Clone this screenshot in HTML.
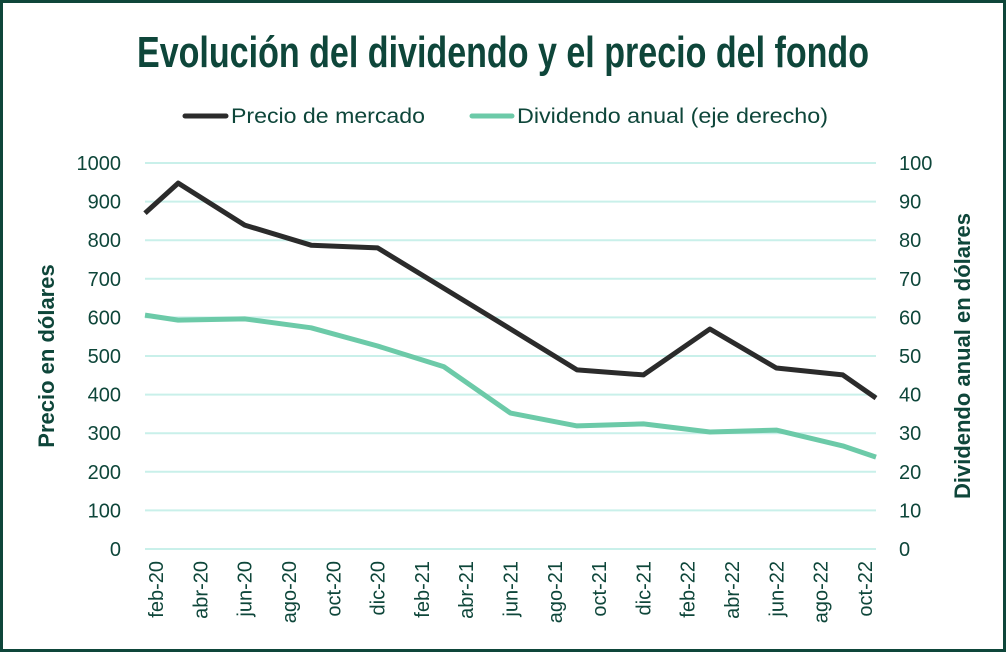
<!DOCTYPE html>
<html><head><meta charset="utf-8"><style>
html,body{margin:0;padding:0;background:#fff}
svg{display:block;font-family:"Liberation Sans",sans-serif}
</style></head><body>
<svg id="chart" width="1006" height="652" viewBox="0 0 1006 652">
<rect x="1.5" y="1.5" width="1003" height="649" fill="#fff" stroke="#0e463a" stroke-width="3"/>
<text x="503" y="67" text-anchor="middle" font-family="'Liberation Sans Narrow','Liberation Sans',sans-serif" font-weight="bold" font-size="44" fill="#0e463a" textLength="732" lengthAdjust="spacingAndGlyphs">Evolución del dividendo y el precio del fondo</text>
<g>
<g>
<line x1="185" y1="116" x2="226" y2="116" stroke="#2b2b2b" stroke-width="5" stroke-linecap="round"/>
<text x="231" y="123" font-size="21" fill="#0e463a" textLength="194" lengthAdjust="spacingAndGlyphs">Precio de mercado</text>
</g>
<g>
<line x1="472" y1="116" x2="512" y2="116" stroke="#6ccaa8" stroke-width="5" stroke-linecap="round"/>
<text x="517" y="123" font-size="21" fill="#0e463a" textLength="311" lengthAdjust="spacingAndGlyphs">Dividendo anual (eje derecho)</text>
</g>
</g>
<text transform="translate(54,356) rotate(-90)" text-anchor="middle" font-family="'Liberation Sans Narrow','Liberation Sans',sans-serif" font-weight="bold" font-size="22" fill="#0e463a">Precio en dólares</text>
<text transform="translate(970,356) rotate(-90)" text-anchor="middle" font-family="'Liberation Sans Narrow','Liberation Sans',sans-serif" font-weight="bold" font-size="22" fill="#0e463a">Dividendo  anual en dólares</text>
<g id="grid"></g><g id="axes"></g><g id="series"></g>
</svg>
<script>
const xLabels=["feb-20","abr-20","jun-20","ago-20","oct-20","dic-20","feb-21","abr-21","jun-21","ago-21","oct-21","dic-21","feb-22","abr-22","jun-22","ago-22","oct-22"];
const leftTicks=[0,100,200,300,400,500,600,700,800,900,1000];
const rightTicks=[0,10,20,30,40,50,60,70,80,90,100];
// month index from feb-20 (=0)
const pointMonths=[-0.5,1,4,7,10,13,16,19,22,25,28,31,32.5];
const priceValues=[870,948,839,787,780,675,570,464,451,570,469,451,391];
const dividendValues=[60.6,59.3,59.6,57.3,52.6,47.2,35.2,31.9,32.4,30.3,30.8,26.7,23.8];
const NS="http://www.w3.org/2000/svg";
const X0=145,X1=876,Y0=549,Y1=163,NCAT=33;
const step=(X1-X0)/NCAT;
const xm=m=>X0+(m+0.5)*step;
const yL=v=>Y0-(v/1000)*(Y0-Y1);
const yR=v=>Y0-(v/100)*(Y0-Y1);
function mk(tag,attrs,parent){const e=document.createElementNS(NS,tag);for(const k in attrs)e.setAttribute(k,attrs[k]);parent.appendChild(e);return e;}
const grid=document.getElementById('grid'),axes=document.getElementById('axes'),series=document.getElementById('series');
leftTicks.forEach((t,i)=>{
 const l=mk('line',{x1:X0,x2:X1,y1:yL(t),y2:yL(t),stroke:'#c9f0ea','stroke-width':2},grid);
 
 
 const a=mk('text',{x:121,y:yL(t)+7,'text-anchor':'end','font-size':20,fill:'#0e463a'},axes);
 a.textContent=t;
 
 
 const b=mk('text',{x:899,y:yR(rightTicks[i])+7,'font-size':20,fill:'#0e463a'},axes);
 b.textContent=rightTicks[i];
 
 
});
xLabels.forEach((lab,i)=>{
 const x=xm(i*2);
 const t=mk('text',{transform:`translate(${x+7},561) rotate(-90)`,'text-anchor':'end','font-size':20,fill:'#0e463a'},axes);
 t.textContent=lab;
 
 
});
function line(vals,yf,color,name){
 const d=vals.map((v,i)=>(i?'L':'M')+xm(pointMonths[i]).toFixed(1)+','+yf(v).toFixed(1)).join(' ');
 const p=mk('path',{d:d,fill:'none',stroke:color,'stroke-width':5,'stroke-linejoin':'round'},series);
 
 
}
line(dividendValues,yR,'#6ccaa8','dividend-line');
line(priceValues,yL,'#2b2b2b','price-line');
</script>
</body></html>
